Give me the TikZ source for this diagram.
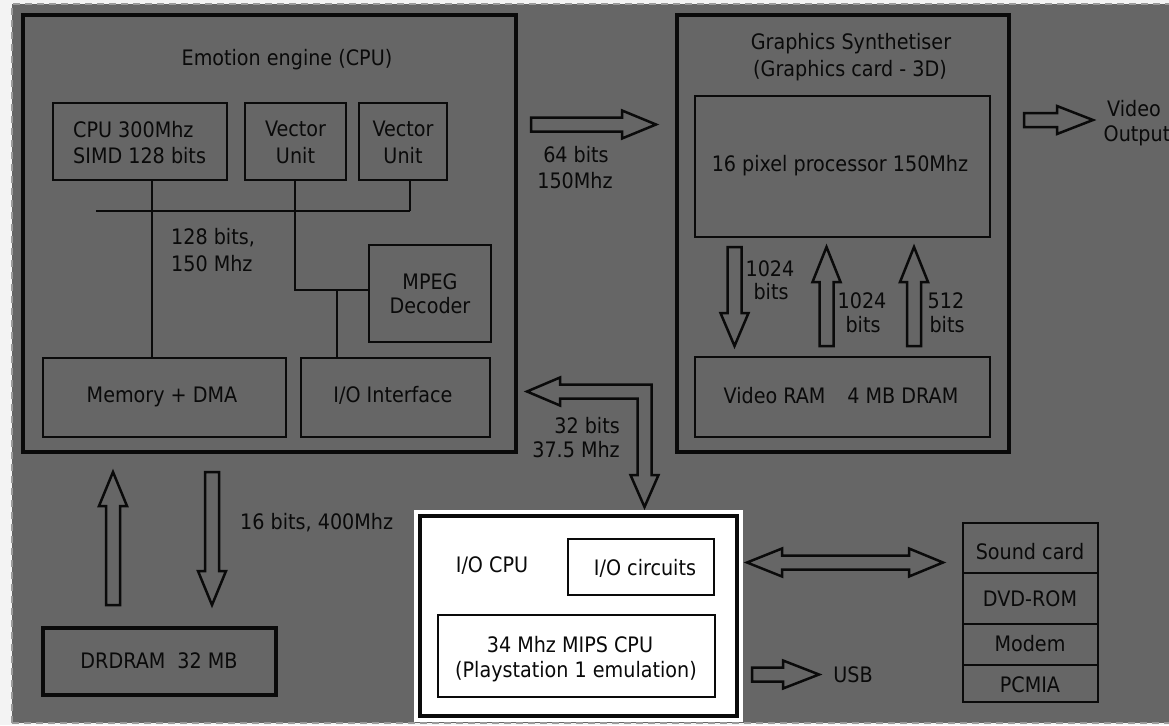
\documentclass[tikz,border=0pt]{standalone}
\usepackage{fontspec}
\setmainfont{DejaVu Sans Condensed}
\definecolor{bg}{HTML}{666666}
\definecolor{outerc}{HTML}{F3F3F3}
\definecolor{dashc}{HTML}{9A9A9A}
\definecolor{ink}{HTML}{0A0A0A}
\newcommand\arrH[4]{% tail x, head base x, tip x, centre y
  \draw[blk] (#1,#4-7) -- (#2,#4-7) -- (#2,#4-14) -- (#3,#4) -- (#2,#4+14) -- (#2,#4+7) -- (#1,#4+7) -- cycle;}
\newcommand\arrV[4]{% centre x, tail y, head base y, tip y
  \draw[blk] (#1-7,#2) -- (#1+7,#2) -- (#1+7,#3) -- (#1+14,#3) -- (#1,#4) -- (#1-14,#3) -- (#1-7,#3) -- cycle;}
\begin{document}
\begin{tikzpicture}[x=1pt,y=-1pt,
  thickbox/.style={draw=ink, line width=4.5pt, inner sep=0pt, outer sep=0pt},
  thinbox/.style={draw=ink, line width=2.5pt, inner sep=0pt, outer sep=0pt},
  lbl/.style={anchor=base, inner sep=0pt, text=ink, font=\fontsize{21.3}{25}\selectfont},
  wire/.style={draw=ink, line width=2.5pt},
  blk/.style={draw=ink, line width=2.5pt, line join=miter},
]
\useasboundingbox (0,0) rectangle (1169,725);
\fill[outerc] (0,0) rectangle (1169,725);
\fill[bg] (12,4) rectangle (1180,723);
\draw[dashc, line width=2pt, dash pattern=on 7pt off 5pt] (12,723) -- (12,4) -- (1180,4);
\draw[dashc, line width=2pt, dash pattern=on 7pt off 5pt] (12,723) -- (1180,723);

% ---------- Emotion engine ----------
\node[thickbox, minimum width=493pt, minimum height=437pt] (ee) at (269.5,233.5) {};
\node[lbl] (eet) at (287,66) {Emotion engine (CPU)};
\node[thinbox, minimum width=174pt, minimum height=77pt] (cpu) at (140,141.5) {};
\node[lbl, anchor=base west] (cpu1) at (73,137) {CPU 300Mhz};
\node[lbl, anchor=base west] (cpu2) at (73,163) {SIMD 128 bits};
\node[thinbox, minimum width=101pt, minimum height=77pt] (vu1) at (295.5,141.5) {};
\node[lbl] (vu1a) at (295.5,136) {Vector};
\node[lbl] (vu1b) at (295.5,163) {Unit};
\node[thinbox, minimum width=88pt, minimum height=77pt] (vu2) at (403,141.5) {};
\node[lbl] (vu2a) at (403,136) {Vector};
\node[lbl] (vu2b) at (403,163) {Unit};
\node[thinbox, minimum width=122pt, minimum height=97pt] (mpeg) at (430,293.5) {};
\node[lbl] (mpega) at (430,289) {MPEG};
\node[lbl] (mpegb) at (430,313) {Decoder};
\node[thinbox, minimum width=243pt, minimum height=79pt] (mem) at (164.5,397.5) {};
\node[lbl] (memt) at (162,402) {Memory + DMA};
\node[thinbox, minimum width=189pt, minimum height=79pt] (ioi) at (395.5,397.5) {};
\node[lbl] (ioit) at (393,402) {I/O Interface};
\node[lbl, anchor=base west] (busa) at (171,244) {128 bits,};
\node[lbl, anchor=base west] (busb) at (171,271) {150 Mhz};

\coordinate (busL) at (96,211);
\coordinate (busR) at (410,211);
\coordinate (xc) at (152,0);
\coordinate (j1) at (295,290);
\coordinate (j2) at (337,290);
\draw[wire] (busL) -- (busR);
\draw[wire] (xc |- cpu.south) -- (xc |- mem.north);
\draw[wire] (busR |- vu2.south) -- (busR);
\draw[wire] (j1 |- vu1.south) -- (j1) -- (mpeg.west |- j1);
\draw[wire] (j2) -- (j2 |- ioi.north);

% ---------- Graphics synthesiser ----------
\node[thickbox, minimum width=332pt, minimum height=437pt] (gs) at (843,233.5) {};
\node[lbl] (gst1) at (851,50) {Graphics Synthetiser};
\node[lbl] (gst2) at (850,76) {(Graphics card - 3D)};
\node[thinbox, minimum width=295pt, minimum height=141pt] (pix) at (842.5,166.5) {};
\node[lbl] (pixt) at (840,171) {16 pixel processor 150Mhz};
\node[thinbox, minimum width=295pt, minimum height=80pt] (vram) at (842.5,397) {};
\node[lbl] (vramt) at (841,403) {Video RAM\hspace{22pt}4 MB DRAM};
\arrV{734.5}{247}{313}{346}
\arrV{826.5}{346}{282}{247}
\arrV{914}{346}{282}{247}
\node[lbl] (l1a) at (770,276) {1024};
\node[lbl] (l1b) at (771,299) {bits};
\node[lbl] (l2a) at (862,308) {1024};
\node[lbl] (l2b) at (863,332) {bits};
\node[lbl] (l3a) at (946,308) {512};
\node[lbl] (l3b) at (947,332) {bits};

% EE -> GS
\arrH{531}{622}{656}{124.5}
\node[lbl] (b64a) at (576,162) {64 bits};
\node[lbl] (b64b) at (575,188) {150Mhz};

% video output
\arrH{1024}{1057}{1093}{120}
\node[lbl] (vida) at (1134,116) {Video};
\node[lbl] (vidb) at (1137,141) {Output};

% EE <-> I/O CPU bent arrow
\draw[blk] (527,391.5) -- (560,377.5) -- (560,384.5) -- (651.5,384.5) -- (651.5,475) -- (658.5,475)
  -- (644.5,507) -- (630.5,475) -- (637.5,475) -- (637.5,398.5) -- (560,398.5) -- (560,405.5) -- cycle;
\node[lbl, anchor=base east] (b32a) at (620,433) {32 bits};
\node[lbl, anchor=base east] (b32b) at (620,457) {37.5 Mhz};

% DRDRAM
\arrV{113}{605}{506}{472}
\arrV{212}{472}{571}{605}
\node[lbl, anchor=base west] (b16) at (240,529) {16 bits, 400Mhz};
\node[thickbox, minimum width=233pt, minimum height=67pt] (dram) at (159.5,661.5) {};
\node[lbl] (dramt) at (159,668) {DRDRAM\hspace{12pt}32 MB};

% I/O CPU
\fill[white] (414,510) rectangle (743,722);
\node[thickbox, fill=white, minimum width=317pt, minimum height=200pt] (iocpu) at (578.5,616) {};
\node[lbl] (iocput) at (492,572) {I/O CPU};
\node[thinbox, minimum width=146pt, minimum height=56pt] (iocirc) at (641,567) {};
\node[lbl] (iocirct) at (645,575) {I/O circuits};
\node[thinbox, minimum width=277pt, minimum height=82pt] (mips) at (576.5,656) {};
\node[lbl] (mipsa) at (570,652) {34 Mhz MIPS CPU};
\node[lbl] (mipsb) at (576,677) {(Playstation 1 emulation)};

% double arrow
\draw[blk] (747,562.5) -- (782,548.5) -- (782,555.5) -- (909,555.5) -- (909,548.5) -- (943,562.5)
  -- (909,576.5) -- (909,569.5) -- (782,569.5) -- (782,576.5) -- cycle;
% USB
\arrH{752}{783}{819}{674.5}
\node[lbl] (usb) at (853,682) {USB};

% peripheral stack
\node[thinbox, minimum width=135pt, minimum height=50pt] (snd) at (1030.5,548) {};
\node[thinbox, minimum width=135pt, minimum height=51pt] (dvd) at (1030.5,598.5) {};
\node[thinbox, minimum width=135pt, minimum height=41pt] (mdm) at (1030.5,644.5) {};
\node[thinbox, minimum width=135pt, minimum height=37pt] (pcm) at (1030.5,683.5) {};
\node[lbl] (sndt) at (1030,559) {Sound card};
\node[lbl] (dvdt) at (1030,606) {DVD-ROM};
\node[lbl] (mdmt) at (1030,651) {Modem};
\node[lbl] (pcmt) at (1030,692) {PCMIA};
\end{tikzpicture}
\end{document}
